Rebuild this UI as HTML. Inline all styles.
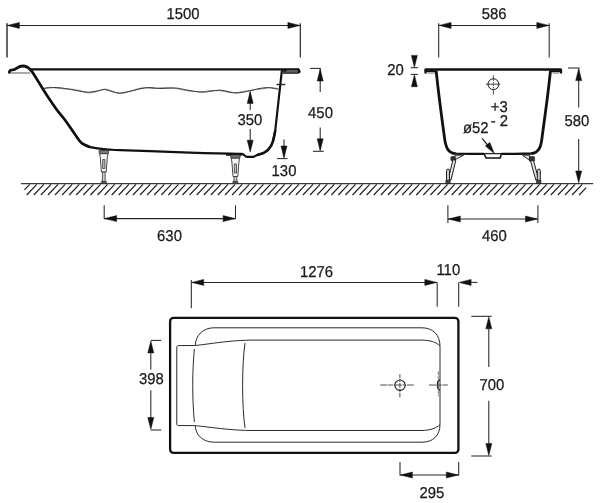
<!DOCTYPE html>
<html lang="en">
<head>
<meta charset="utf-8">
<title>Bathtub dimensions</title>
<style>
html,body{margin:0;padding:0;background:#fff;}
body{width:600px;height:503px;overflow:hidden;}
svg{display:block;will-change:transform;}
text{font-family:"Liberation Sans",sans-serif;fill:#1a1a1a;stroke:#1a1a1a;stroke-width:0.25px;text-rendering:geometricPrecision;}
</style>
</head>
<body>
<svg width="600" height="503" viewBox="0 0 600 503">
<rect width="600" height="503" fill="#ffffff"/>
<line x1="21" y1="183.6" x2="593.2" y2="183.6" stroke="#3a3a3a" stroke-width="1.1" />
<path d="M24.40,189.93L29.72,184.30 M26.70,195.00L36.80,184.30 M33.78,195.00L43.88,184.30 M40.87,195.00L50.97,184.30 M47.95,195.00L58.05,184.30 M55.03,195.00L65.13,184.30 M62.11,195.00L72.21,184.30 M69.20,195.00L79.30,184.30 M76.28,195.00L86.38,184.30 M83.36,195.00L93.46,184.30 M90.45,195.00L100.55,184.30 M97.53,195.00L107.63,184.30 M104.61,195.00L114.71,184.30 M111.70,195.00L121.80,184.30 M118.78,195.00L128.88,184.30 M125.86,195.00L135.96,184.30 M132.94,195.00L143.04,184.30 M140.03,195.00L150.13,184.30 M147.11,195.00L157.21,184.30 M154.19,195.00L164.29,184.30 M161.28,195.00L171.38,184.30 M168.36,195.00L178.46,184.30 M175.44,195.00L185.54,184.30 M182.53,195.00L192.63,184.30 M189.61,195.00L199.71,184.30 M196.69,195.00L206.79,184.30 M203.78,195.00L213.88,184.30 M210.86,195.00L220.96,184.30 M217.94,195.00L228.04,184.30 M225.02,195.00L235.12,184.30 M232.11,195.00L242.21,184.30 M239.19,195.00L249.29,184.30 M246.27,195.00L256.37,184.30 M253.36,195.00L263.46,184.30 M260.44,195.00L270.54,184.30 M267.52,195.00L277.62,184.30 M274.61,195.00L284.71,184.30 M281.69,195.00L291.79,184.30 M288.77,195.00L298.87,184.30 M295.85,195.00L305.95,184.30 M302.94,195.00L313.04,184.30 M310.02,195.00L320.12,184.30 M317.10,195.00L327.20,184.30 M324.19,195.00L334.29,184.30 M331.27,195.00L341.37,184.30 M338.35,195.00L348.45,184.30 M345.44,195.00L355.54,184.30 M352.52,195.00L362.62,184.30 M359.60,195.00L369.70,184.30 M366.68,195.00L376.78,184.30 M373.77,195.00L383.87,184.30 M380.85,195.00L390.95,184.30 M387.93,195.00L398.03,184.30 M395.02,195.00L405.12,184.30 M402.10,195.00L412.20,184.30 M409.18,195.00L419.28,184.30 M416.26,195.00L426.37,184.30 M423.35,195.00L433.45,184.30 M430.43,195.00L440.53,184.30 M437.51,195.00L447.61,184.30 M444.60,195.00L454.70,184.30 M451.68,195.00L461.78,184.30 M458.76,195.00L468.86,184.30 M465.85,195.00L475.95,184.30 M472.93,195.00L483.03,184.30 M480.01,195.00L490.11,184.30 M487.10,195.00L497.20,184.30 M494.18,195.00L504.28,184.30 M501.26,195.00L511.36,184.30 M508.34,195.00L518.44,184.30 M515.43,195.00L525.53,184.30 M522.51,195.00L532.61,184.30 M529.59,195.00L539.69,184.30 M536.68,195.00L546.78,184.30 M543.76,195.00L553.86,184.30 M550.84,195.00L560.94,184.30 M557.93,195.00L568.03,184.30 M565.01,195.00L575.11,184.30 M572.09,195.00L582.19,184.30 M579.17,195.00L586.20,187.56 " stroke="#1c1c1c" stroke-width="1.15" fill="none" />
<line x1="7" y1="23.2" x2="7" y2="57.5" stroke="#262626" stroke-width="1.4" />
<line x1="300.3" y1="23.2" x2="300.3" y2="57.5" stroke="#262626" stroke-width="1.2" />
<line x1="7" y1="25.4" x2="300.3" y2="25.4" stroke="#262626" stroke-width="1.05" />
<polygon points="7.50,25.40 19.40,22.40 19.40,28.40" fill="#111111" stroke="#111111" stroke-width="0.5" stroke-linejoin="round"/>
<polygon points="299.80,25.40 287.90,22.40 287.90,28.40" fill="#111111" stroke="#111111" stroke-width="0.5" stroke-linejoin="round"/>
<text transform="translate(182.9,19.00) scale(0.99,1.05)" font-size="15" text-anchor="middle" >1500</text>
<path d="M9.4,72.4 C9.2,70.4 10.5,69.8 13,69.8 C16.5,69.8 17.5,66 22.8,66 C27.5,66 29.3,68.2 31.2,70.6" stroke="#111111" stroke-width="2.8" fill="none" stroke-linecap="round" stroke-linejoin="round"/>
<path d="M31.20,70.60 C31.50,71.00 30.95,69.77 33.00,73.00 C35.05,76.23 40.67,85.50 43.50,90.00 C46.33,94.50 47.75,96.67 50.00,100.00 C52.25,103.33 54.50,106.67 57.00,110.00 C59.50,113.33 62.50,116.67 65.00,120.00 C67.50,123.33 70.23,127.47 72.00,130.00 C73.77,132.53 74.50,133.60 75.60,135.20 C76.70,136.80 77.47,138.20 78.60,139.60 C79.73,141.00 80.58,142.38 82.40,143.60 C84.22,144.82 86.57,146.05 89.50,146.90 C92.43,147.75 96.58,148.25 100.00,148.70 C103.42,149.15 106.67,149.35 110.00,149.60 C113.33,149.85 113.33,149.93 120.00,150.20 C126.67,150.47 138.33,150.80 150.00,151.20 C161.67,151.60 176.67,152.18 190.00,152.60 C203.33,153.02 221.33,153.50 230.00,153.70 C238.67,153.90 240.00,153.78 242.00,153.80 C244,153.8 244.6,156.8 247.2,156.8 L253,156.8 C255,156.8 255.6,155.3 258,154.8 C266,153.3 271.2,148.6 273.2,140.5 C274,137 274.6,134 275.2,131 L281.8,71" stroke="#111111" stroke-width="2.2" fill="none" stroke-linecap="round" stroke-linejoin="round"/>
<path d="M31.20,70.60 C31.50,71.00 30.95,69.77 33.00,73.00 C35.05,76.23 40.67,85.50 43.50,90.00 C46.33,94.50 47.75,96.67 50.00,100.00 C52.25,103.33 54.50,106.67 57.00,110.00 C59.50,113.33 62.50,116.67 65.00,120.00 C67.50,123.33 70.23,127.47 72.00,130.00 C73.77,132.53 74.50,133.60 75.60,135.20 C76.70,136.80 77.47,138.20 78.60,139.60 C79.73,141.00 80.58,142.38 82.40,143.60 C84.22,144.82 88.32,146.35 89.50,146.90" stroke="#111111" stroke-width="2.5" fill="none" stroke-linecap="round" stroke-linejoin="round"/>
<path d="M258,154.8 C266,153.3 271.2,148.6 273.2,140.5 C274,137 274.6,134 275.2,131" stroke="#111111" stroke-width="2.5" fill="none" stroke-linecap="round" stroke-linejoin="round"/>
<path d="M226,154.9 L242,155" stroke="#111111" stroke-width="1.6" fill="none" />
<path d="M30,69.4 L298.8,69.4" stroke="#111111" stroke-width="2.4" fill="none" />
<path d="M283,71.2 L298,71.2" stroke="#5a5a5a" stroke-width="2.0" fill="none" />
<path d="M297.6,69.3 C300.2,69.3 300.6,72.9 297.8,72.9 L283.4,72.9" stroke="#111111" stroke-width="1.5" fill="none" stroke-linecap="round"/>
<path d="M298.4,69.6 L299.3,72.2" stroke="#111111" stroke-width="2.2" fill="none" stroke-linecap="round"/>
<path d="M282.5,70.6 L286.5,70.6" stroke="#111111" stroke-width="1.8" fill="none" />
<line x1="10.5" y1="73" x2="30.5" y2="73" stroke="#444" stroke-width="0.9" />
<line x1="276.5" y1="84.5" x2="285.3" y2="84.5" stroke="#262626" stroke-width="1.4" />
<path d="M44.20,88.00 C45.17,87.88 47.92,87.28 50.00,87.30 C52.08,87.32 54.37,87.83 56.70,88.10 C59.03,88.37 61.57,88.73 64.00,88.90 C66.43,89.07 68.63,88.80 71.30,89.10 C73.97,89.40 77.22,90.08 80.00,90.70 C82.78,91.32 85.33,92.62 88.00,92.80 C90.67,92.98 93.23,92.42 96.00,91.80 C98.77,91.18 101.93,89.22 104.60,89.10 C107.27,88.98 109.57,90.35 112.00,91.10 C114.43,91.85 116.87,93.35 119.20,93.60 C121.53,93.85 123.57,93.20 126.00,92.60 C128.43,92.00 131.30,90.75 133.80,90.00 C136.30,89.25 138.58,88.42 141.00,88.10 C143.42,87.78 146.13,88.03 148.30,88.10 C150.47,88.17 152.05,88.52 154.00,88.50 C155.95,88.48 157.67,88.13 160.00,88.00 C162.33,87.87 165.22,87.58 168.00,87.70 C170.78,87.82 173.20,88.15 176.70,88.70 C180.20,89.25 184.83,90.50 189.00,91.00 C193.17,91.50 198.03,91.75 201.70,91.70 C205.37,91.65 207.88,90.87 211.00,90.70 C214.12,90.53 217.40,90.42 220.40,90.70 C223.40,90.98 226.23,92.10 229.00,92.40 C231.77,92.70 233.57,92.83 237.00,92.50 C240.43,92.17 245.93,90.95 249.60,90.40 C253.27,89.85 255.88,89.58 259.00,89.20 C262.12,88.82 265.97,88.33 268.30,88.10 C270.63,87.87 271.33,87.70 273.00,87.80 C274.67,87.90 277.42,88.55 278.30,88.70" stroke="#7a7a7a" stroke-width="0.9" fill="none" />
<path d="M44.20,88.50 C45.17,88.38 47.92,87.97 50.00,87.80 C52.08,87.63 54.37,87.42 56.70,87.50 C59.03,87.58 61.57,87.95 64.00,88.30 C66.43,88.65 68.63,89.12 71.30,89.60 C73.97,90.08 77.22,90.77 80.00,91.20 C82.78,91.63 85.33,92.20 88.00,92.20 C90.67,92.20 93.23,91.63 96.00,91.20 C98.77,90.77 101.93,89.53 104.60,89.60 C107.27,89.67 109.57,91.03 112.00,91.60 C114.43,92.17 116.87,92.93 119.20,93.00 C121.53,93.07 123.57,92.42 126.00,92.00 C128.43,91.58 131.30,91.07 133.80,90.50 C136.30,89.93 138.58,89.10 141.00,88.60 C143.42,88.10 146.13,87.62 148.30,87.50 C150.47,87.38 152.05,87.73 154.00,87.90 C155.95,88.07 157.67,88.45 160.00,88.50 C162.33,88.55 165.22,88.27 168.00,88.20 C170.78,88.13 173.20,87.73 176.70,88.10 C180.20,88.47 184.83,89.72 189.00,90.40 C193.17,91.08 198.03,92.07 201.70,92.20 C205.37,92.33 207.88,91.55 211.00,91.20 C214.12,90.85 217.40,90.00 220.40,90.10 C223.40,90.20 226.23,91.32 229.00,91.80 C231.77,92.28 233.57,93.15 237.00,93.00 C240.43,92.85 245.93,91.63 249.60,90.90 C253.27,90.17 255.88,89.17 259.00,88.60 C262.12,88.03 265.97,87.55 268.30,87.50 C270.63,87.45 271.33,88.02 273.00,88.30 C274.67,88.58 277.42,89.05 278.30,89.20" stroke="#3a3a3a" stroke-width="1.0" fill="none" />
<path d="M99.0,150.5 L108.6,150.5 L108.3,153.7 L99.3,153.7 Z" stroke="#333" stroke-width="0.8" fill="#777" />
<path d="M99.6,153.7 L108.0,153.7 L107.3,157.5 L106.2,172.0 L101.39999999999999,172.0 L100.3,157.5 Z" stroke="#333" stroke-width="0.9" fill="#f6f6f6" />
<path d="M102.7,159.5 L104.89999999999999,159.5 L104.89999999999999,168.5 L102.7,168.5 Z" stroke="#333" stroke-width="0.8" fill="#c4c4c4" />
<path d="M102.39999999999999,172.0 L105.2,172.0 L105.2,181.5 L102.39999999999999,181.5 Z" stroke="#333" stroke-width="0.8" fill="#ccc" />
<path d="M101.3,181.3 L106.3,181.3 L106.3,183.3 L101.3,183.3 Z" stroke="#333" stroke-width="0.6" fill="#555" />
<path d="M230.6,155 L240.20000000000002,155 L239.9,158.2 L230.9,158.2 Z" stroke="#333" stroke-width="0.8" fill="#777" />
<path d="M231.20000000000002,158.2 L239.6,158.2 L238.9,162 L237.8,176.5 L233.0,176.5 L231.9,162 Z" stroke="#333" stroke-width="0.9" fill="#f6f6f6" />
<path d="M234.3,164 L236.5,164 L236.5,173 L234.3,173 Z" stroke="#333" stroke-width="0.8" fill="#c4c4c4" />
<path d="M234.0,176.5 L236.8,176.5 L236.8,181.5 L234.0,181.5 Z" stroke="#333" stroke-width="0.8" fill="#ccc" />
<path d="M232.9,181.3 L237.9,181.3 L237.9,183.3 L232.9,183.3 Z" stroke="#333" stroke-width="0.6" fill="#555" />
<line x1="250.2" y1="92" x2="250.2" y2="110" stroke="#262626" stroke-width="1.05" />
<polygon points="250.20,91.50 247.20,103.40 253.20,103.40" fill="#111111" stroke="#111111" stroke-width="0.5" stroke-linejoin="round"/>
<text transform="translate(249.8,125.00) scale(0.99,1.05)" font-size="15" text-anchor="middle" >350</text>
<line x1="250.2" y1="129" x2="250.2" y2="150" stroke="#262626" stroke-width="1.05" />
<polygon points="250.20,152.10 247.20,140.20 253.20,140.20" fill="#111111" stroke="#111111" stroke-width="0.5" stroke-linejoin="round"/>
<line x1="284" y1="139.5" x2="284" y2="157" stroke="#262626" stroke-width="1.05" />
<polygon points="284.00,157.90 281.00,146.00 287.00,146.00" fill="#111111" stroke="#111111" stroke-width="0.5" stroke-linejoin="round"/>
<line x1="277" y1="158.6" x2="287.5" y2="158.6" stroke="#262626" stroke-width="1.05" />
<text transform="translate(284,176.00) scale(0.99,1.05)" font-size="15" text-anchor="middle" >130</text>
<line x1="310" y1="68.4" x2="320.8" y2="68.4" stroke="#262626" stroke-width="1.05" />
<line x1="320.2" y1="69" x2="320.2" y2="92" stroke="#262626" stroke-width="1.05" />
<polygon points="320.20,69.10 317.20,81.00 323.20,81.00" fill="#111111" stroke="#111111" stroke-width="0.5" stroke-linejoin="round"/>
<text transform="translate(320.5,118.00) scale(0.99,1.05)" font-size="15" text-anchor="middle" >450</text>
<line x1="320.2" y1="127.5" x2="320.2" y2="150" stroke="#262626" stroke-width="1.05" />
<polygon points="320.20,150.70 317.20,138.80 323.20,138.80" fill="#111111" stroke="#111111" stroke-width="0.5" stroke-linejoin="round"/>
<line x1="313" y1="151.3" x2="323.8" y2="151.3" stroke="#262626" stroke-width="1.05" />
<line x1="104.2" y1="205.3" x2="104.2" y2="219" stroke="#262626" stroke-width="1.05" />
<line x1="235.5" y1="205.3" x2="235.5" y2="219" stroke="#262626" stroke-width="1.05" />
<line x1="104.2" y1="218.6" x2="235.5" y2="218.6" stroke="#262626" stroke-width="1.05" />
<polygon points="104.70,218.60 116.60,215.60 116.60,221.60" fill="#111111" stroke="#111111" stroke-width="0.5" stroke-linejoin="round"/>
<polygon points="235.00,218.60 223.10,215.60 223.10,221.60" fill="#111111" stroke="#111111" stroke-width="0.5" stroke-linejoin="round"/>
<text transform="translate(169.5,241.00) scale(0.99,1.05)" font-size="15" text-anchor="middle" >630</text>
<line x1="438.7" y1="23.2" x2="438.7" y2="57.5" stroke="#262626" stroke-width="1.05" />
<line x1="549.2" y1="23.2" x2="549.2" y2="57.5" stroke="#262626" stroke-width="1.05" />
<line x1="438.7" y1="25.4" x2="549.2" y2="25.4" stroke="#262626" stroke-width="1.05" />
<polygon points="439.20,25.40 451.10,22.40 451.10,28.40" fill="#111111" stroke="#111111" stroke-width="0.5" stroke-linejoin="round"/>
<polygon points="548.70,25.40 536.80,22.40 536.80,28.40" fill="#111111" stroke="#111111" stroke-width="0.5" stroke-linejoin="round"/>
<text transform="translate(494.2,19.00) scale(0.99,1.05)" font-size="15" text-anchor="middle" >586</text>
<text transform="translate(395.5,75.00) scale(0.99,1.05)" font-size="15" text-anchor="middle" >20</text>
<polygon points="414.40,67.30 411.40,55.40 417.40,55.40" fill="#111111" stroke="#111111" stroke-width="0.5" stroke-linejoin="round"/>
<line x1="410.8" y1="67.7" x2="418" y2="67.7" stroke="#262626" stroke-width="1.05" />
<polygon points="414.40,74.80 411.40,86.70 417.40,86.70" fill="#111111" stroke="#111111" stroke-width="0.5" stroke-linejoin="round"/>
<line x1="410.8" y1="74.4" x2="418" y2="74.4" stroke="#262626" stroke-width="1.05" />
<path d="M425.8,69.45 L560.6,69.45" stroke="#111111" stroke-width="2.5" fill="none" stroke-linecap="round"/>
<path d="M425.5,70.2 L425.5,72.6 M561,70.2 L561,72.4" stroke="#111111" stroke-width="2.4" fill="none" stroke-linecap="round"/>
<path d="M426,71.2 L435.5,71.2 M551,71.2 L560.5,71.2" stroke="#111111" stroke-width="2.0" fill="none" />
<line x1="427.5" y1="73.2" x2="435" y2="73.2" stroke="#777" stroke-width="0.8" />
<line x1="552.5" y1="73.2" x2="559" y2="73.2" stroke="#777" stroke-width="0.8" />
<path d="M436.10,70.50 C436.57,74.58 437.90,86.75 438.90,95.00 C439.90,103.25 441.18,113.00 442.10,120.00 C443.02,127.00 443.85,133.17 444.40,137.00 C444.95,140.83 444.88,141.00 445.40,143.00 C445.92,145.00 446.57,147.43 447.50,149.00 C448.43,150.57 449.75,151.65 451.00,152.40 C452.25,153.15 454.33,153.32 455.00,153.50" stroke="#111111" stroke-width="2.8" fill="none" stroke-linejoin="round"/>
<path d="M531.70,153.50 C532.42,153.28 534.68,153.12 536.00,152.20 C537.32,151.28 538.70,149.70 539.60,148.00 C540.50,146.30 540.90,144.45 541.40,142.00 C541.90,139.55 542.10,136.97 542.60,133.30 C543.10,129.63 543.55,126.38 544.40,120.00 C545.25,113.62 546.68,103.25 547.70,95.00 C548.72,86.75 550.03,74.58 550.50,70.50" stroke="#111111" stroke-width="2.8" fill="none" stroke-linejoin="round"/>
<path d="M452,153.0 L456,153.6 L470,153.9 L484,153.9 M501.5,153.9 L515,153.8 L531,153.5 L534,153" stroke="#111111" stroke-width="2.3" fill="none" stroke-linejoin="round"/>
<path d="M484.2,154 L486,158 L500.2,158 L501.4,154" stroke="#111111" stroke-width="1.6" fill="#fff" stroke-linejoin="round"/>
<line x1="483.5" y1="153.6" x2="502" y2="153.6" stroke="#262626" stroke-width="1.3" />
<circle cx="493.4" cy="84.2" r="5.4" fill="none" stroke="#1c1c1c" stroke-width="1.0"/>
<line x1="486" y1="84.2" x2="500.2" y2="84.2" stroke="#2a2a2a" stroke-width="0.9" />
<line x1="493.4" y1="75.4" x2="493.4" y2="94.5" stroke="#333" stroke-width="0.85" stroke-dasharray="5.5 1 1.5 1 1.5 1 1.5 1 10"/>
<text transform="translate(499.3,112.00) scale(0.99,1.05)" font-size="15" text-anchor="middle" >+3</text>
<text transform="translate(499.3,126.00) scale(0.99,1.05)" font-size="15" text-anchor="middle" >- 2</text>
<text transform="translate(475.8,133.00) scale(0.99,1.05)" font-size="15" text-anchor="middle" >ø52</text>
<line x1="482.1" y1="138.4" x2="490" y2="148" stroke="#262626" stroke-width="1.3" />
<polygon points="494.3,153.4 485.4,146 489.8,142.4" fill="#111111" stroke="#111111" stroke-width="0.5" stroke-linejoin="round"/>
<path d="M463.5,155.2 L455,155.2 L455,159.8 Z" stroke="#1c1c1c" stroke-width="0.9" fill="#ddd" stroke-linejoin="round"/>
<rect x="450.8" y="156.6" width="4.40" height="4.20" rx="1" fill="#333" stroke="#1c1c1c" stroke-width="0.6"/>
<path d="M455.81,160.34 L451.01,179.94 L448.19,179.26 L452.99,159.66 Z" stroke="#1c1c1c" stroke-width="1.0" fill="#e6e6e6" />
<rect x="446.50" y="169.10" width="3" height="11.5" rx="1.4" fill="#ccc" stroke="#1c1c1c" stroke-width="1"/>
<rect x="445.90" y="180.2" width="4.2" height="3.2" fill="#444" stroke="#1c1c1c" stroke-width="0.7"/>
<path d="M522.5,155.2 L529.6,155.2 L529.6,160.4 Z" stroke="#1c1c1c" stroke-width="0.9" fill="#ddd" stroke-linejoin="round"/>
<rect x="529.4" y="156.6" width="5.20" height="4.80" rx="1" fill="#333" stroke="#1c1c1c" stroke-width="0.6"/>
<path d="M533.40,160.22 L538.60,179.22 L535.80,179.98 L530.60,160.98 Z" stroke="#1c1c1c" stroke-width="1.0" fill="#e6e6e6" />
<rect x="537.30" y="169.10" width="3" height="11.5" rx="1.4" fill="#ccc" stroke="#1c1c1c" stroke-width="1"/>
<rect x="536.70" y="180.2" width="4.2" height="3.2" fill="#444" stroke="#1c1c1c" stroke-width="0.7"/>
<line x1="568" y1="68" x2="579.7" y2="68" stroke="#262626" stroke-width="1.05" />
<line x1="578.7" y1="69" x2="578.7" y2="107.5" stroke="#262626" stroke-width="1.05" />
<polygon points="578.70,68.70 575.70,80.60 581.70,80.60" fill="#111111" stroke="#111111" stroke-width="0.5" stroke-linejoin="round"/>
<text transform="translate(576.8,126.00) scale(0.99,1.05)" font-size="15" text-anchor="middle" >580</text>
<line x1="578.7" y1="139" x2="578.7" y2="172" stroke="#262626" stroke-width="1.05" />
<polygon points="578.70,182.80 575.70,170.90 581.70,170.90" fill="#111111" stroke="#111111" stroke-width="0.5" stroke-linejoin="round"/>
<line x1="447.9" y1="205.3" x2="447.9" y2="223" stroke="#262626" stroke-width="1.05" />
<line x1="537.9" y1="205.3" x2="537.9" y2="223" stroke="#262626" stroke-width="1.05" />
<line x1="447.9" y1="219" x2="537.9" y2="219" stroke="#262626" stroke-width="1.05" />
<polygon points="448.40,219.00 460.30,216.00 460.30,222.00" fill="#111111" stroke="#111111" stroke-width="0.5" stroke-linejoin="round"/>
<polygon points="537.40,219.00 525.50,216.00 525.50,222.00" fill="#111111" stroke="#111111" stroke-width="0.5" stroke-linejoin="round"/>
<text transform="translate(494.3,241.00) scale(0.99,1.05)" font-size="15" text-anchor="middle" >460</text>
<rect x="170.1" y="317.9" width="288.3" height="135" rx="3.5" fill="none" stroke="#111111" stroke-width="2.3"/>
<path d="M195.2,346 C195.4,335.5 203,327.8 214,327.8 L422,327.8 C433,327.8 440,335 440,346 L440,424.5 C440,435.5 433,442.2 422,442.2 L214,442.2 C203,442.2 195.4,435 195.2,425.4" stroke="#2a2a2a" stroke-width="1.0" fill="none" />
<path d="M194.5,345.5 L178.3,345.6 C177.2,345.6 176.8,346.2 176.8,347.2 L176.8,424 C176.8,425 177.2,425.5 178.3,425.5 L194.5,425.6" stroke="#2a2a2a" stroke-width="1.0" fill="none" />
<path d="M194.5,345.5 C205,344.8 225,340.7 250,340.1 L421,340.1 C430,340.1 436.5,342.2 440,346" stroke="#2a2a2a" stroke-width="1.0" fill="none" />
<path d="M194.5,425.6 C205,426.3 225,430 250,430.5 L421,430.5 C430,430.5 436.5,428.2 440,424.5" stroke="#2a2a2a" stroke-width="1.0" fill="none" />
<path d="M194.4,349 C192.2,370 192.2,401 194.4,422" stroke="#2a2a2a" stroke-width="1.0" fill="none" />
<path d="M245,343 C241.8,365 241.8,406 245,428" stroke="#2a2a2a" stroke-width="1.0" fill="none" />
<circle cx="400" cy="385.2" r="5.2" fill="none" stroke="#1c1c1c" stroke-width="1.1"/>
<line x1="380.3" y1="385" x2="413.8" y2="385" stroke="#3a3a3a" stroke-width="0.9" stroke-dasharray="7 0.8 5 0.8 8 0.8 3.5 0.8 8"/>
<line x1="399.9" y1="374" x2="399.9" y2="397.4" stroke="#3a3a3a" stroke-width="0.9" stroke-dasharray="4.5 0.8 3 0.8 5 0.8 3 0.8 8"/>
<path d="M439.8,379.6 C436.5,381 436.5,389 439.8,390.4" stroke="#1c1c1c" stroke-width="1.2" fill="none" />
<line x1="429" y1="385" x2="447.8" y2="385" stroke="#3a3a3a" stroke-width="0.9" stroke-dasharray="7 0.8 5 0.8 8"/>
<line x1="438.3" y1="371.4" x2="438.3" y2="396.2" stroke="#555" stroke-width="0.8" stroke-dasharray="4 0.8 3 0.8 10 0.8 3 0.8 4"/>
<line x1="191.3" y1="280" x2="191.3" y2="308.3" stroke="#262626" stroke-width="1.05" />
<line x1="437.2" y1="282.5" x2="437.2" y2="306.7" stroke="#262626" stroke-width="1.05" />
<line x1="191.3" y1="282.4" x2="437.2" y2="282.4" stroke="#262626" stroke-width="1.05" />
<polygon points="191.80,282.40 203.70,279.40 203.70,285.40" fill="#111111" stroke="#111111" stroke-width="0.5" stroke-linejoin="round"/>
<polygon points="436.70,282.40 424.80,279.40 424.80,285.40" fill="#111111" stroke="#111111" stroke-width="0.5" stroke-linejoin="round"/>
<text transform="translate(316.4,277.00) scale(0.99,1.05)" font-size="15" text-anchor="middle" >1276</text>
<line x1="458.7" y1="282.5" x2="458.7" y2="306.7" stroke="#262626" stroke-width="1.05" />
<polygon points="459.20,282.40 471.10,279.40 471.10,285.40" fill="#111111" stroke="#111111" stroke-width="0.5" stroke-linejoin="round"/>
<line x1="470" y1="282.4" x2="477.5" y2="282.4" stroke="#262626" stroke-width="1.05" />
<text transform="translate(448.3,275.00) scale(0.99,1.05)" font-size="15" text-anchor="middle" >110</text>
<line x1="150.8" y1="340.4" x2="161.3" y2="340.4" stroke="#262626" stroke-width="1.05" />
<line x1="150.8" y1="430" x2="161.3" y2="430" stroke="#262626" stroke-width="1.05" />
<polygon points="150.80,341.00 147.80,352.90 153.80,352.90" fill="#111111" stroke="#111111" stroke-width="0.5" stroke-linejoin="round"/>
<line x1="150.8" y1="352" x2="150.8" y2="369.4" stroke="#262626" stroke-width="1.05" />
<text transform="translate(151.3,384.00) scale(0.99,1.05)" font-size="15" text-anchor="middle" >398</text>
<line x1="150.8" y1="390.3" x2="150.8" y2="418" stroke="#262626" stroke-width="1.05" />
<polygon points="150.80,429.40 147.80,417.50 153.80,417.50" fill="#111111" stroke="#111111" stroke-width="0.5" stroke-linejoin="round"/>
<line x1="471.3" y1="316.3" x2="491.7" y2="316.3" stroke="#262626" stroke-width="1.05" />
<line x1="471.3" y1="456" x2="491.7" y2="456" stroke="#262626" stroke-width="1.05" />
<polygon points="488.80,316.90 485.80,328.80 491.80,328.80" fill="#111111" stroke="#111111" stroke-width="0.5" stroke-linejoin="round"/>
<line x1="488.8" y1="327" x2="488.8" y2="367" stroke="#262626" stroke-width="1.05" />
<text transform="translate(491.9,390.00) scale(0.99,1.05)" font-size="15" text-anchor="middle" >700</text>
<line x1="488.8" y1="400.7" x2="488.8" y2="444" stroke="#262626" stroke-width="1.05" />
<polygon points="488.80,455.40 485.80,443.50 491.80,443.50" fill="#111111" stroke="#111111" stroke-width="0.5" stroke-linejoin="round"/>
<line x1="400" y1="462" x2="400" y2="475.5" stroke="#262626" stroke-width="1.05" />
<line x1="458.7" y1="462" x2="458.7" y2="475.5" stroke="#262626" stroke-width="1.05" />
<line x1="400" y1="475" x2="458.7" y2="475" stroke="#262626" stroke-width="1.05" />
<polygon points="400.50,475.00 412.40,472.00 412.40,478.00" fill="#111111" stroke="#111111" stroke-width="0.5" stroke-linejoin="round"/>
<polygon points="458.20,475.00 446.30,472.00 446.30,478.00" fill="#111111" stroke="#111111" stroke-width="0.5" stroke-linejoin="round"/>
<text transform="translate(431.8,498.00) scale(0.99,1.05)" font-size="15" text-anchor="middle" >295</text>
</svg>
</body>
</html>
